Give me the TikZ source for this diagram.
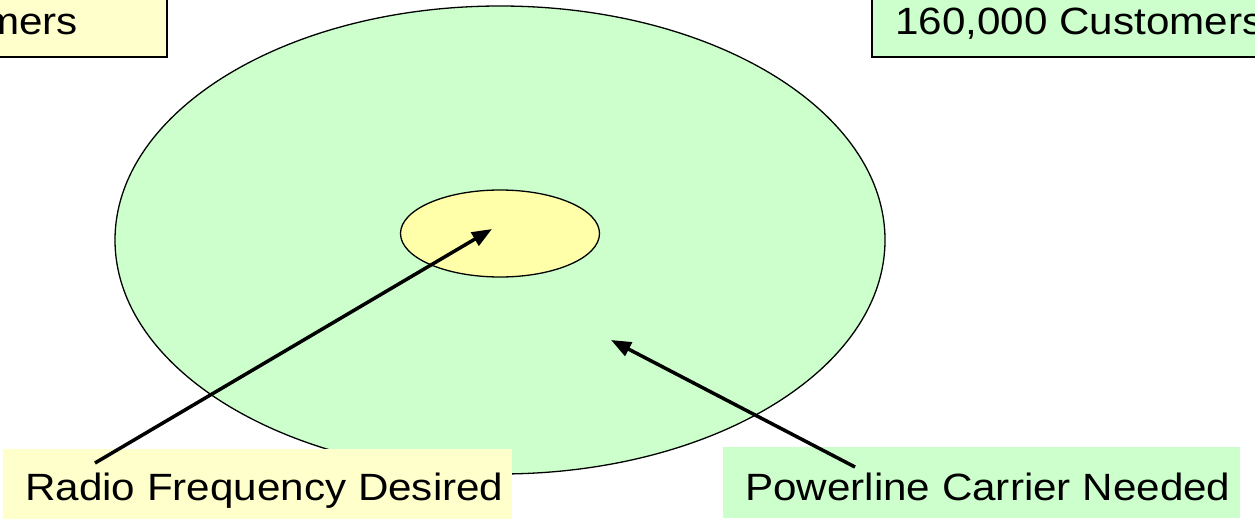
\documentclass[tikz,border=0pt]{standalone}
\usepackage{fontspec}
\setmainfont[FakeStretch=1.11]{Liberation Sans}
\usetikzlibrary{shapes.geometric,arrows.meta}
\definecolor{lyellow}{HTML}{FFFFCC}
\definecolor{myellow}{HTML}{FFFFAA}
\definecolor{lgreen}{HTML}{CCFFCC}
\tikzset{
  lbl/.style={font=\fontsize{38}{46}\selectfont, inner sep=0pt, text=black},
  pointer/.style={line width=3.5pt, -{Triangle[length=20pt,width=15pt]}},
  topbox/.style={draw=black, line width=2pt, minimum height=80pt, inner sep=0pt},
}
\begin{document}
\begin{tikzpicture}[x=1pt,y=-1pt]
\useasboundingbox (0,0) rectangle (1255,519);
\clip (0,0) rectangle (1255,519);
% top boxes
\node[topbox, fill=lyellow, minimum width=200pt] (lbox) at (67,17) {};
\node[lbl, anchor=base east] (ltext) at (78,35) {mers};
\node[topbox, fill=lgreen, minimum width=420pt] (rbox) at (1082,17) {};
\node[lbl, anchor=base west] (rtext) at (895,35) {160,000 Customers};
% ellipses
\node[ellipse, draw=black, line width=1.3pt, fill=lgreen, minimum width=770pt, minimum height=468pt, inner sep=0pt] (big) at (500,240) {};
\node[ellipse, draw=black, line width=1.3pt, fill=myellow, minimum width=199pt, minimum height=87pt, inner sep=0pt] (small) at (500,233.5) {};
% bottom label boxes
\node[fill=lyellow, minimum width=509pt, minimum height=70pt, inner sep=0pt] (rbox2) at (257.5,484) {};
\node[lbl, anchor=base west] (rf) at (25,500) {Radio Frequency Desired};
\node[fill=lgreen, minimum width=517pt, minimum height=71pt, inner sep=0pt] (pbox) at (981.5,482.5) {};
\node[lbl, anchor=base west] (pl) at (745,500) {Powerline Carrier Needed};
% arrows
\coordinate (rfstart) at (95,463);
\coordinate (rftip) at (492,229);
\coordinate (plstart) at (855,467);
\coordinate (pltip) at (611,340);
\draw[pointer] (rfstart) -- (rftip);
\draw[pointer] (plstart) -- (pltip);
\end{tikzpicture}
\end{document}
